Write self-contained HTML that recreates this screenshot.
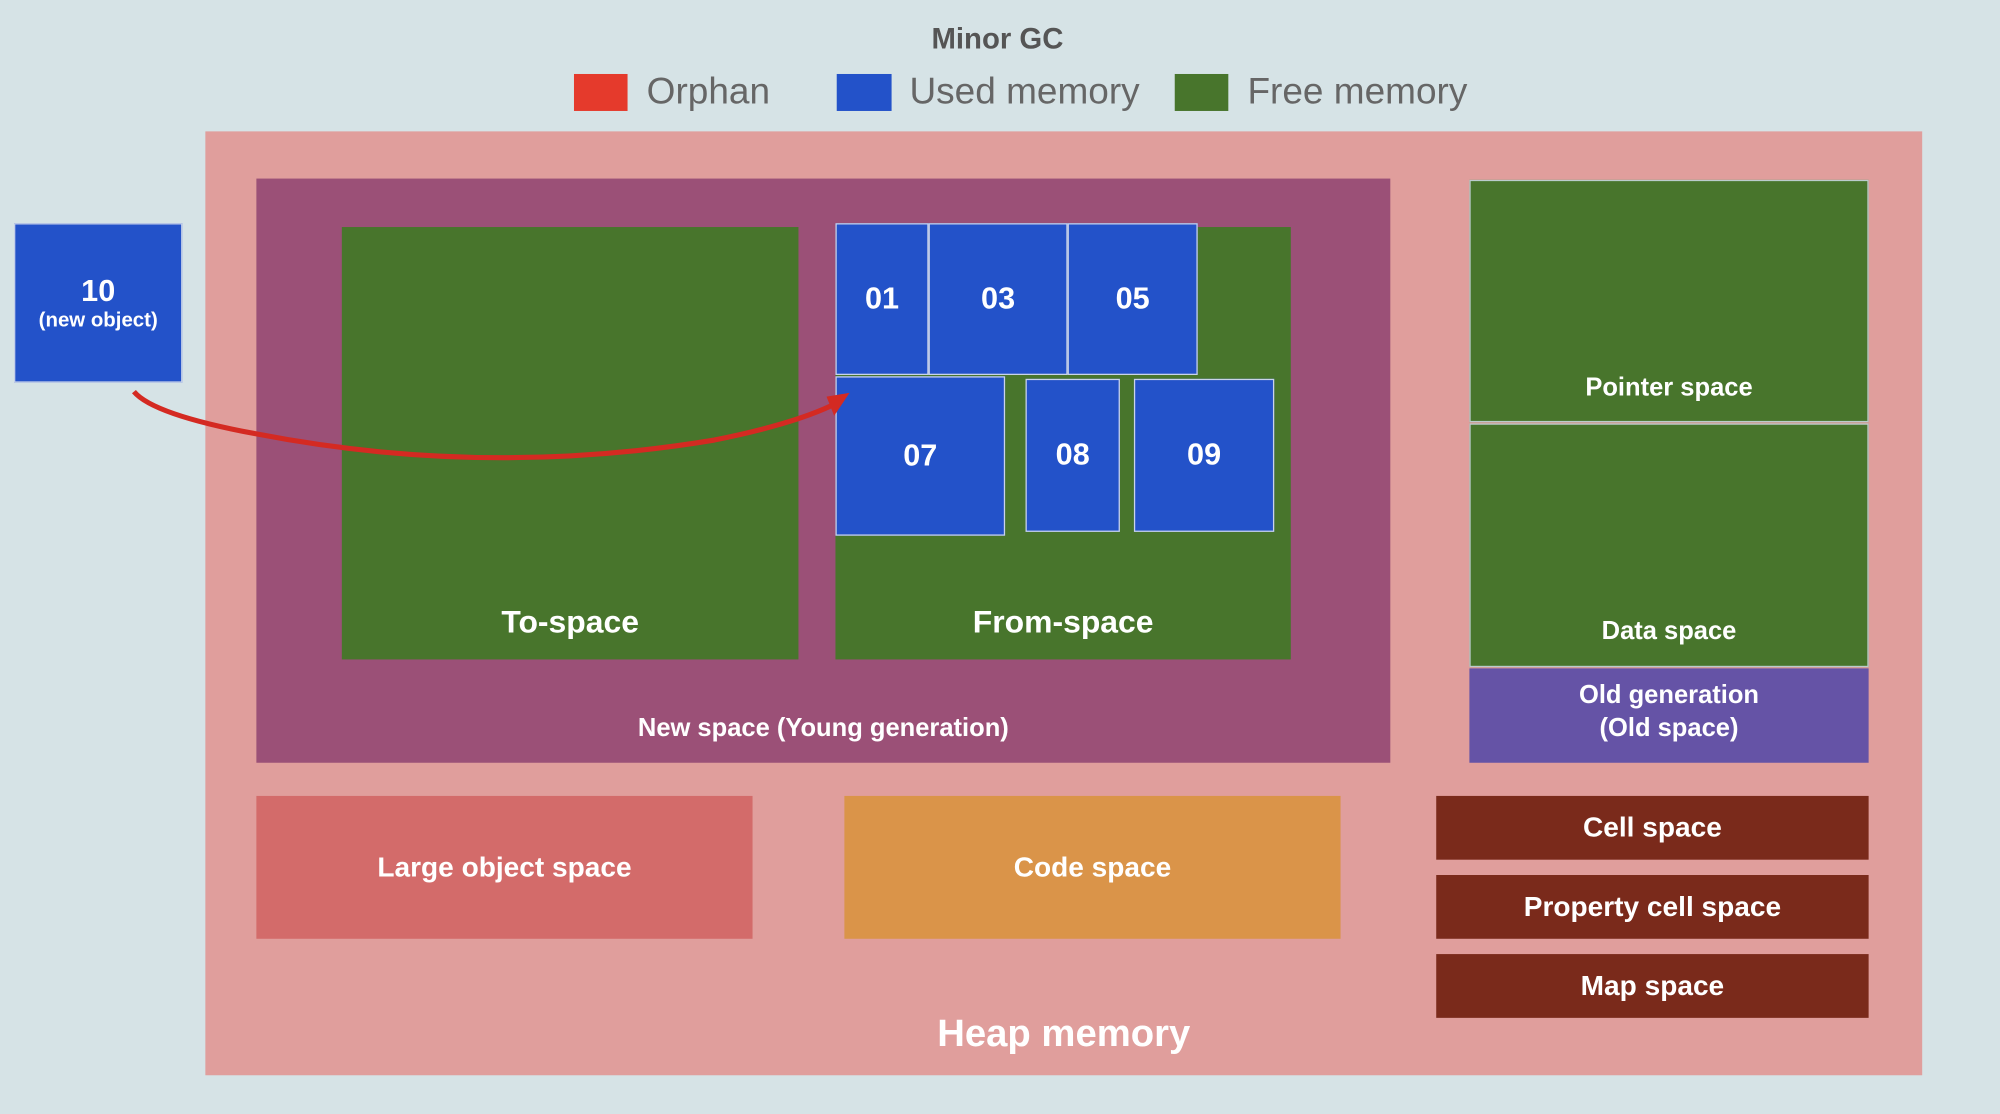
<!DOCTYPE html>
<html><head><style>
html,body{margin:0;padding:0;}
body{width:2000px;height:1114px;overflow:hidden;background:#d6e3e6;}
#s{position:absolute;left:0;top:0;width:1568px;height:873px;transform:scale(1.27551);transform-origin:0 0;font-family:"Liberation Sans",sans-serif;}
.b{position:absolute;box-sizing:border-box;}
.t{position:absolute;color:#fff;font-weight:bold;text-align:center;white-space:nowrap;}
.g{background:#48752c;}
.u{background:#2352c9;border:1.5px solid #c9d3ea;color:#fff;font-weight:bold;font-size:24px;display:flex;align-items:center;justify-content:center;}
.d{background:#7a2a1b;color:#fff;font-weight:bold;font-size:22px;display:flex;align-items:center;justify-content:center;}
</style></head><body><div id="s">
<div class="t" style="left:682px;top:17px;width:200px;color:#555;font-size:23px;">Minor GC</div>
<div class="b" style="left:450px;top:58px;width:42px;height:29px;background:#e53a2c;"></div>
<div class="t" style="left:507px;top:56px;color:#666;font-weight:normal;font-size:29px;">Orphan</div>
<div class="b" style="left:656px;top:58px;width:43px;height:29px;background:#2352c9;"></div>
<div class="t" style="left:713px;top:56px;color:#666;font-weight:normal;font-size:29px;">Used memory</div>
<div class="b" style="left:921px;top:58px;width:42px;height:29px;background:#48752c;"></div>
<div class="t" style="left:978px;top:56px;color:#666;font-weight:normal;font-size:29px;">Free memory</div>

<div class="b" style="left:161px;top:103px;width:1346px;height:740px;background:#e09e9c;"></div>
<div class="b" style="left:201px;top:140px;width:889px;height:458px;background:#9b5077;"></div>
<div class="t" style="left:201px;top:560px;width:889px;font-size:20px;">New space (Young generation)</div>
<div class="b g" style="left:268px;top:178px;width:358px;height:339px;"></div>
<div class="t" style="left:268px;top:474px;width:358px;font-size:25px;">To-space</div>
<div class="b g" style="left:655px;top:178px;width:357px;height:339px;"></div>
<div class="t" style="left:655px;top:474px;width:357px;font-size:25px;">From-space</div>
<div class="b u" style="left:655px;top:175px;width:73px;height:119px;">01</div>
<div class="b u" style="left:728px;top:175px;width:109px;height:119px;">03</div>
<div class="b u" style="left:837px;top:175px;width:102px;height:119px;">05</div>
<div class="b u" style="left:655px;top:295px;width:133px;height:125px;">07</div>
<div class="b u" style="left:804px;top:297px;width:74px;height:120px;">08</div>
<div class="b u" style="left:889px;top:297px;width:110px;height:120px;">09</div>

<div class="b u" style="left:11px;top:175px;width:132px;height:125px;flex-direction:column;">
<div style="font-size:24px;">10</div><div style="font-size:16px;">(new object)</div></div>

<div class="b g" style="left:1152px;top:141px;width:313px;height:190px;border:1.5px solid #bcc;"></div>
<div class="t" style="left:1152px;top:293px;width:313px;font-size:20px;">Pointer space</div>
<div class="b g" style="left:1152px;top:332px;width:313px;height:191px;border:1.5px solid #bcc;"></div>
<div class="t" style="left:1152px;top:484px;width:313px;font-size:20px;">Data space</div>
<div class="b" style="left:1152px;top:524px;width:313px;height:74px;background:#6553a6;"></div>
<div class="t" style="left:1152px;top:532px;width:313px;font-size:20px;line-height:26px;">Old generation<br>(Old space)</div>

<div class="b" style="left:201px;top:624px;width:389px;height:112px;background:#d36b6a;"></div>
<div class="t" style="left:201px;top:667px;width:389px;font-size:22px;">Large object space</div>
<div class="b" style="left:662px;top:624px;width:389px;height:112px;background:#da9449;"></div>
<div class="t" style="left:662px;top:667px;width:389px;font-size:22px;">Code space</div>
<div class="b d" style="left:1126px;top:624px;width:339px;height:50px;">Cell space</div>
<div class="b d" style="left:1126px;top:686px;width:339px;height:50px;">Property cell space</div>
<div class="b d" style="left:1126px;top:748px;width:339px;height:50px;">Map space</div>
<div class="t" style="left:634px;top:794px;width:400px;font-size:30px;">Heap memory</div>

<svg class="b" style="left:0;top:0;" width="1568" height="873">
<path d="M105 307 Q120 325 200 340 Q380 375 560 345 Q620 333 652 318" fill="none" stroke="#d42a22" stroke-width="4"/>
<polygon points="666,308 648,311 654,326" fill="#d42a22"/>
</svg>
</div></body></html>
